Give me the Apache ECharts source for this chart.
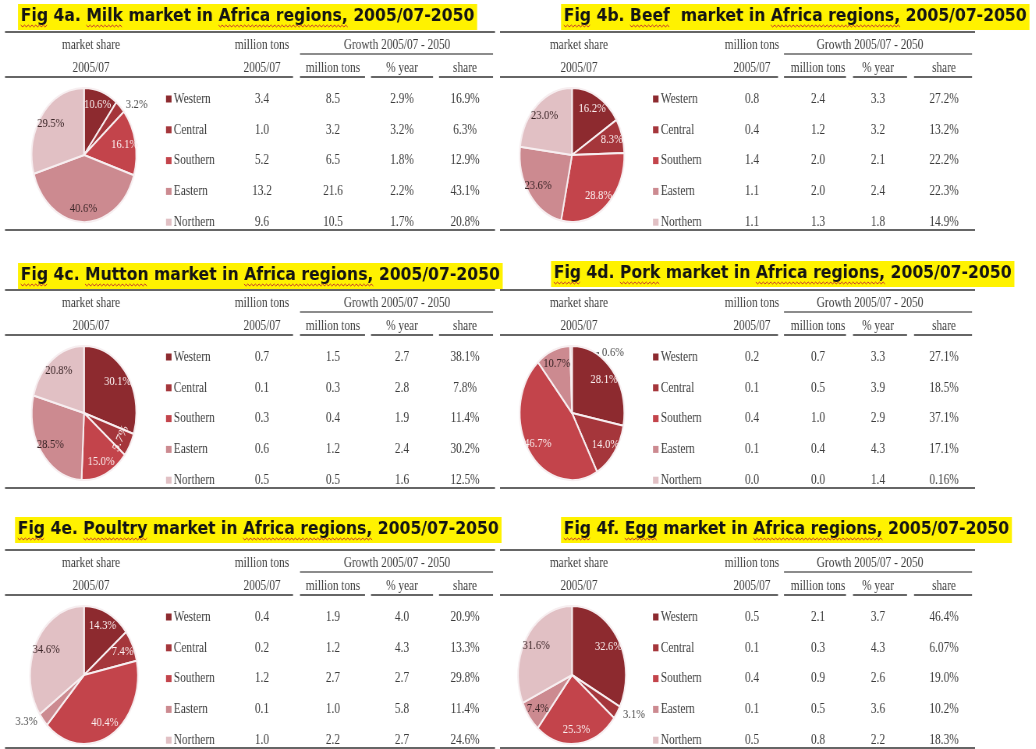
<!DOCTYPE html>
<html>
<head>
<meta charset="utf-8">
<title>Livestock markets in Africa regions</title>
<script src="https://cdn.jsdelivr.net/npm/echarts@6/dist/echarts.min.js"></script>
<style>
  html, body { margin: 0; padding: 0; background: #ffffff; overflow: hidden; }
  #wrap { position: relative; width: 1036px; height: 749px; overflow: hidden; }
  /* the figure is laid out on a wider canvas and squeezed horizontally,
     which gives the condensed lettering and the oval pies */
  #chart { position: absolute; left: 0; top: 0; width: 1328px; height: 749px;
           transform: scaleX(0.78); transform-origin: 0 0; }
</style>
</head>
<body>
<div id="wrap"><div id="chart"></div></div>
<script>
// horizontal squeeze factor; X() turns on-screen x positions into canvas units
const SX = 0.78;
const X = v => v / SX;

const regions = ['Western', 'Central', 'Southern', 'Eastern', 'Northern'];

// ---- Milk ----
const milkShare       = [10.6, 3.2, 16.1, 40.6, 29.5];
const milkTons        = ['3.4', '1.0', '5.2', '13.2', '9.6'];
const milkGrowthTons  = ['8.5', '3.2', '6.5', '21.6', '10.5'];
const milkGrowthYear  = ['2.9%', '3.2%', '1.8%', '2.2%', '1.7%'];
const milkGrowthShare = ['16.9%', '6.3%', '12.9%', '43.1%', '20.8%'];

// ---- Beef ----
const beefShare       = [16.2, 8.3, 28.8, 23.6, 23.0];
const beefTons        = ['0.8', '0.4', '1.4', '1.1', '1.1'];
const beefGrowthTons  = ['2.4', '1.2', '2.0', '2.0', '1.3'];
const beefGrowthYear  = ['3.3', '3.2', '2.1', '2.4', '1.8'];
const beefGrowthShare = ['27.2%', '13.2%', '22.2%', '22.3%', '14.9%'];

// ---- Mutton ----
const muttonShare       = [30.1, 5.7, 15.0, 28.5, 20.8];
const muttonTons        = ['0.7', '0.1', '0.3', '0.6', '0.5'];
const muttonGrowthTons  = ['1.5', '0.3', '0.4', '1.2', '0.5'];
const muttonGrowthYear  = ['2.7', '2.8', '1.9', '2.4', '1.6'];
const muttonGrowthShare = ['38.1%', '7.8%', '11.4%', '30.2%', '12.5%'];

// ---- Pork ----
const porkShare       = [28.1, 14.0, 46.7, 10.7, 0.6];
const porkTons        = ['0.2', '0.1', '0.4', '0.1', '0.0'];
const porkGrowthTons  = ['0.7', '0.5', '1.0', '0.4', '0.0'];
const porkGrowthYear  = ['3.3', '3.9', '2.9', '4.3', '1.4'];
const porkGrowthShare = ['27.1%', '18.5%', '37.1%', '17.1%', '0.16%'];

// ---- Poultry ----
const poultryShare       = [14.3, 7.4, 40.4, 3.3, 34.6];
const poultryTons        = ['0.4', '0.2', '1.2', '0.1', '1.0'];
const poultryGrowthTons  = ['1.9', '1.2', '2.7', '1.0', '2.2'];
const poultryGrowthYear  = ['4.0', '4.3', '2.7', '5.8', '2.7'];
const poultryGrowthShare = ['20.9%', '13.3%', '29.8%', '11.4%', '24.6%'];

// ---- Egg ----
const eggShare       = [32.6, 3.1, 25.3, 7.4, 31.6];
const eggTons        = ['0.5', '0.1', '0.4', '0.1', '0.5'];
const eggGrowthTons  = ['2.1', '0.3', '0.9', '0.5', '0.8'];
const eggGrowthYear  = ['3.7', '4.3', '2.6', '3.6', '2.2'];
const eggGrowthShare = ['46.4%', '6.07%', '19.0%', '10.2%', '18.3%'];

// ---- styling ----
const sliceColors = ['#8d2a2f', '#a5363b', '#c3444b', '#cc8a90', '#e1c0c4'];
const labelInk    = ['#fbf1f1', '#fbf1f1', '#fbf1f1', '#3b2527', '#3b2527'];
const serif = '"Liberation Serif", "DejaVu Serif", serif';
const titleFamily = '"DejaVu Sans", "Noto Sans", sans-serif';
const ink = '#3c3c3c';
const ruleInk = '#666666';
const CELL_FONT = 14.5;
const TITLE_SIZE = 17;
const TITLE_STRETCH = 1.18;   // titles are set a little wider than the rest of the page

// column templates for the left and right halves of the figure (screen px)
const LEFT = {
  pieX: 84, legX: 166, v: [262, 333, 402, 465],
  hdrMS: 91, hdrMT: 262, hdrGrowth: 397, growthLine: [300, 493],
  segs: [[5, 293], [300, 365], [371, 433], [439, 493]], rule: [5, 495]
};
const RIGHT = {
  pieX: 572, legX: 653, v: [752, 818, 878, 944],
  hdrMS: 579, hdrMT: 752, hdrGrowth: 870, growthLine: [784, 972],
  segs: [[500, 778], [784, 846], [853, 907], [914, 972]], rule: [500, 975]
};

const panels = [
  { key: 'milk', title: 'Fig 4a. Milk market in Africa regions, 2005/07-2050', word: 'Milk',
    share: milkShare, tons: milkTons, gt: milkGrowthTons, gy: milkGrowthYear, gs: milkGrowthShare,
    col: LEFT, row0: 99, titleX: 18, titleY: 17, pieDy: 56, r: 67, outside: [1] },
  { key: 'beef', title: 'Fig 4b. Beef  market in Africa regions, 2005/07-2050', word: 'Beef',
    share: beefShare, tons: beefTons, gt: beefGrowthTons, gy: beefGrowthYear, gs: beefGrowthShare,
    col: RIGHT, row0: 99, titleX: 561, titleY: 17, pieDy: 56, r: 67, outside: [] },
  { key: 'mutton', title: 'Fig 4c. Mutton market in Africa regions, 2005/07-2050', word: 'Mutton',
    share: muttonShare, tons: muttonTons, gt: muttonGrowthTons, gy: muttonGrowthYear, gs: muttonGrowthShare,
    col: LEFT, row0: 357, titleX: 18, titleY: 276, pieDy: 56, r: 67, outside: [], tangential: [1] },
  { key: 'pork', title: 'Fig 4d. Pork market in Africa regions, 2005/07-2050', word: 'Pork',
    share: porkShare, tons: porkTons, gt: porkGrowthTons, gy: porkGrowthYear, gs: porkGrowthShare,
    col: RIGHT, row0: 357, titleX: 551, titleY: 274, pieDy: 56, r: 67, outside: [4], leader: 4 },
  { key: 'poultry', title: 'Fig 4e. Poultry market in Africa regions, 2005/07-2050', word: 'Poultry',
    share: poultryShare, tons: poultryTons, gt: poultryGrowthTons, gy: poultryGrowthYear, gs: poultryGrowthShare,
    col: LEFT, row0: 617, titleX: 15, titleY: 530, pieDy: 58, r: 69, outside: [3] },
  { key: 'egg', title: 'Fig 4f. Egg market in Africa regions, 2005/07-2050', word: 'Egg',
    share: eggShare, tons: eggTons, gt: eggGrowthTons, gy: eggGrowthYear, gs: eggGrowthShare,
    col: RIGHT, row0: 617, titleX: 561, titleY: 530, pieDy: 58, r: 69, outside: [1] }
];

const ROW = 30.8;
const pct = p => p.value.toFixed(1) + '%';

const legends = [];
const pies = [];
const labelPies = [];
const graphics = [];

// text measuring, used to place the spell-check squiggles under title words
const measureCtx = document.createElement('canvas').getContext('2d');
measureCtx.font = 'bold ' + TITLE_SIZE + 'px ' + titleFamily;

function text(x, y, str, opts) {
  graphics.push({
    type: 'text', x: X(x), y: y, silent: true,
    style: Object.assign({
      text: str, fill: ink, font: CELL_FONT + 'px ' + serif,
      align: 'center', verticalAlign: 'middle'
    }, opts || {})
  });
}
function rule(x1, x2, y, w) {
  graphics.push({
    type: 'line', silent: true,
    shape: { x1: X(x1), y1: y, x2: X(x2), y2: y },
    style: { stroke: ruleInk, lineWidth: w }
  });
}
function squiggle(x0, x1, y) {
  const pts = [];
  let up = true;
  for (let x = x0; x <= x1 + 0.1; x += 2.4) { pts.push([x, y + (up ? -1 : 1)]); up = !up; }
  graphics.push({
    type: 'polyline', silent: true, z: 200, shape: { points: pts },
    style: { stroke: '#c8372d', lineWidth: 1, fill: null }
  });
}

panels.forEach(function (p) {
  const c = p.col;
  const top = p.row0;
  const PADX = 3;

  // title on a yellow highlight
  graphics.push({
    type: 'text', x: X(p.titleX), y: p.titleY, scaleX: TITLE_STRETCH, z: 100, silent: true,
    style: {
      text: p.title, font: 'bold ' + TITLE_SIZE + 'px ' + titleFamily, fill: '#141414',
      backgroundColor: '#fff200', padding: [3, PADX, 3, PADX], lineHeight: 20,
      align: 'left', verticalAlign: 'middle'
    }
  });
  const textLeft = X(p.titleX) + PADX * TITLE_STRETCH;
  const baseY = p.titleY + 9;
  const wordSpan = function (w) {
    const i = p.title.indexOf(w);
    return [textLeft + TITLE_STRETCH * measureCtx.measureText(p.title.slice(0, i)).width,
            textLeft + TITLE_STRETCH * measureCtx.measureText(p.title.slice(0, i + w.length)).width];
  };
  [ 'Fig', p.word, 'Africa regions,' ].forEach(function (w) {
    const s = wordSpan(w);
    squiggle(s[0], s[1], baseY);
  });

  // table rules
  rule(c.rule[0], c.rule[1], top - 67, 2);
  rule(c.growthLine[0], c.growthLine[1], top - 45, 1.4);
  c.segs.forEach(function (s) { rule(s[0], s[1], top - 22, 2); });
  rule(c.rule[0], c.rule[1], top + 131, 2);

  // header cells
  text(c.hdrMS, top - 54, 'market share');
  text(c.hdrMT, top - 54, 'million tons');
  text(c.hdrGrowth, top - 54, 'Growth 2005/07 - 2050');
  text(c.hdrMS, top - 31, '2005/07');
  text(c.hdrMT, top - 31, '2005/07');
  text(c.v[1], top - 31, 'million tons');
  text(c.v[2], top - 31, '% year');
  text(c.v[3], top - 31, 'share');

  // body cells
  [p.tons, p.gt, p.gy, p.gs].forEach(function (arr, j) {
    arr.forEach(function (s, i) { text(c.v[j], top + i * ROW, s); });
  });

  // legend column with the region names
  legends.push({
    orient: 'vertical', left: X(c.legX), top: top - 7.5, padding: 0,
    itemWidth: X(5.5), itemHeight: 7, itemGap: ROW - 15,
    icon: 'rect', selectedMode: false,
    itemStyle: { borderWidth: 0 },
    textStyle: { fontFamily: serif, fontSize: CELL_FONT, color: ink, lineHeight: 15, padding: [0, 0, 0, -2] },
    data: regions
  });

  const center = [X(c.pieX), top + p.pieDy];

  // the pie: shares 2005/07, clockwise from 12 o'clock
  const pieSeries = {
    type: 'pie', id: p.key, name: p.title, center: center, radius: p.r,
    startAngle: 90, clockwise: true, avoidLabelOverlap: false, silent: true,
    emphasis: { disabled: true },
    itemStyle: { borderColor: '#f7eef0', borderWidth: 2 },
    label: { show: false, fontFamily: serif, fontSize: 13.5, color: '#4a4a4a', formatter: pct },
    labelLine: { show: false, length: 3, length2: 0 },
    data: p.share.map(function (v, i) {
      const out = p.outside.indexOf(i) >= 0;
      return {
        name: regions[i], value: v,
        itemStyle: { color: sliceColors[i] },
        label: out ? { show: true, position: 'outside' } : { show: false },
        labelLine: (p.leader === i)
          ? { show: true, lineStyle: { color: '#1e1e1e', width: 1.6 } }
          : { show: false }
      };
    })
  };
  if (p.leader !== undefined) {
    // the tiny slice gets its value written to the right, with a short leader
    pieSeries.labelLayout = function (params) {
      if (params.dataIndex !== p.leader || !params.labelLinePoints) return;
      const a = params.labelLinePoints[0];
      return {
        x: a[0] + X(31), y: a[1] + 6, align: 'left', verticalAlign: 'middle',
        labelLinePoints: [[a[0] + X(4), a[1] + 10], [a[0] + X(16), a[1] + 8], [a[0] + X(28), a[1] + 7]]
      };
    };
  }
  pies.push(pieSeries);

  // same shares on a wider, invisible ring so the in-slice values sit toward the rim
  labelPies.push({
    type: 'pie', id: p.key + '-values', center: center, radius: p.r * 1.5,
    startAngle: 90, clockwise: true, avoidLabelOverlap: false, silent: true,
    emphasis: { disabled: true },
    itemStyle: { color: 'rgba(0,0,0,0)', borderWidth: 0 },
    label: { show: true, position: 'inside', fontFamily: serif, fontSize: 13.5, formatter: pct },
    labelLine: { show: false },
    data: p.share.map(function (v, i) {
      const out = p.outside.indexOf(i) >= 0;
      const lab = out ? { show: false } : { show: true, color: labelInk[i] };
      if (p.tangential && p.tangential.indexOf(i) >= 0) lab.rotate = 'tangential';
      return { name: regions[i], value: v, label: lab };
    })
  });
});

const chart = echarts.init(document.getElementById('chart'), null, { renderer: 'canvas' });
chart.setOption({
  animation: false,
  backgroundColor: '#ffffff',
  legend: legends,
  series: pies.concat(labelPies),
  graphic: { elements: graphics }
});
</script>
</body>
</html>
